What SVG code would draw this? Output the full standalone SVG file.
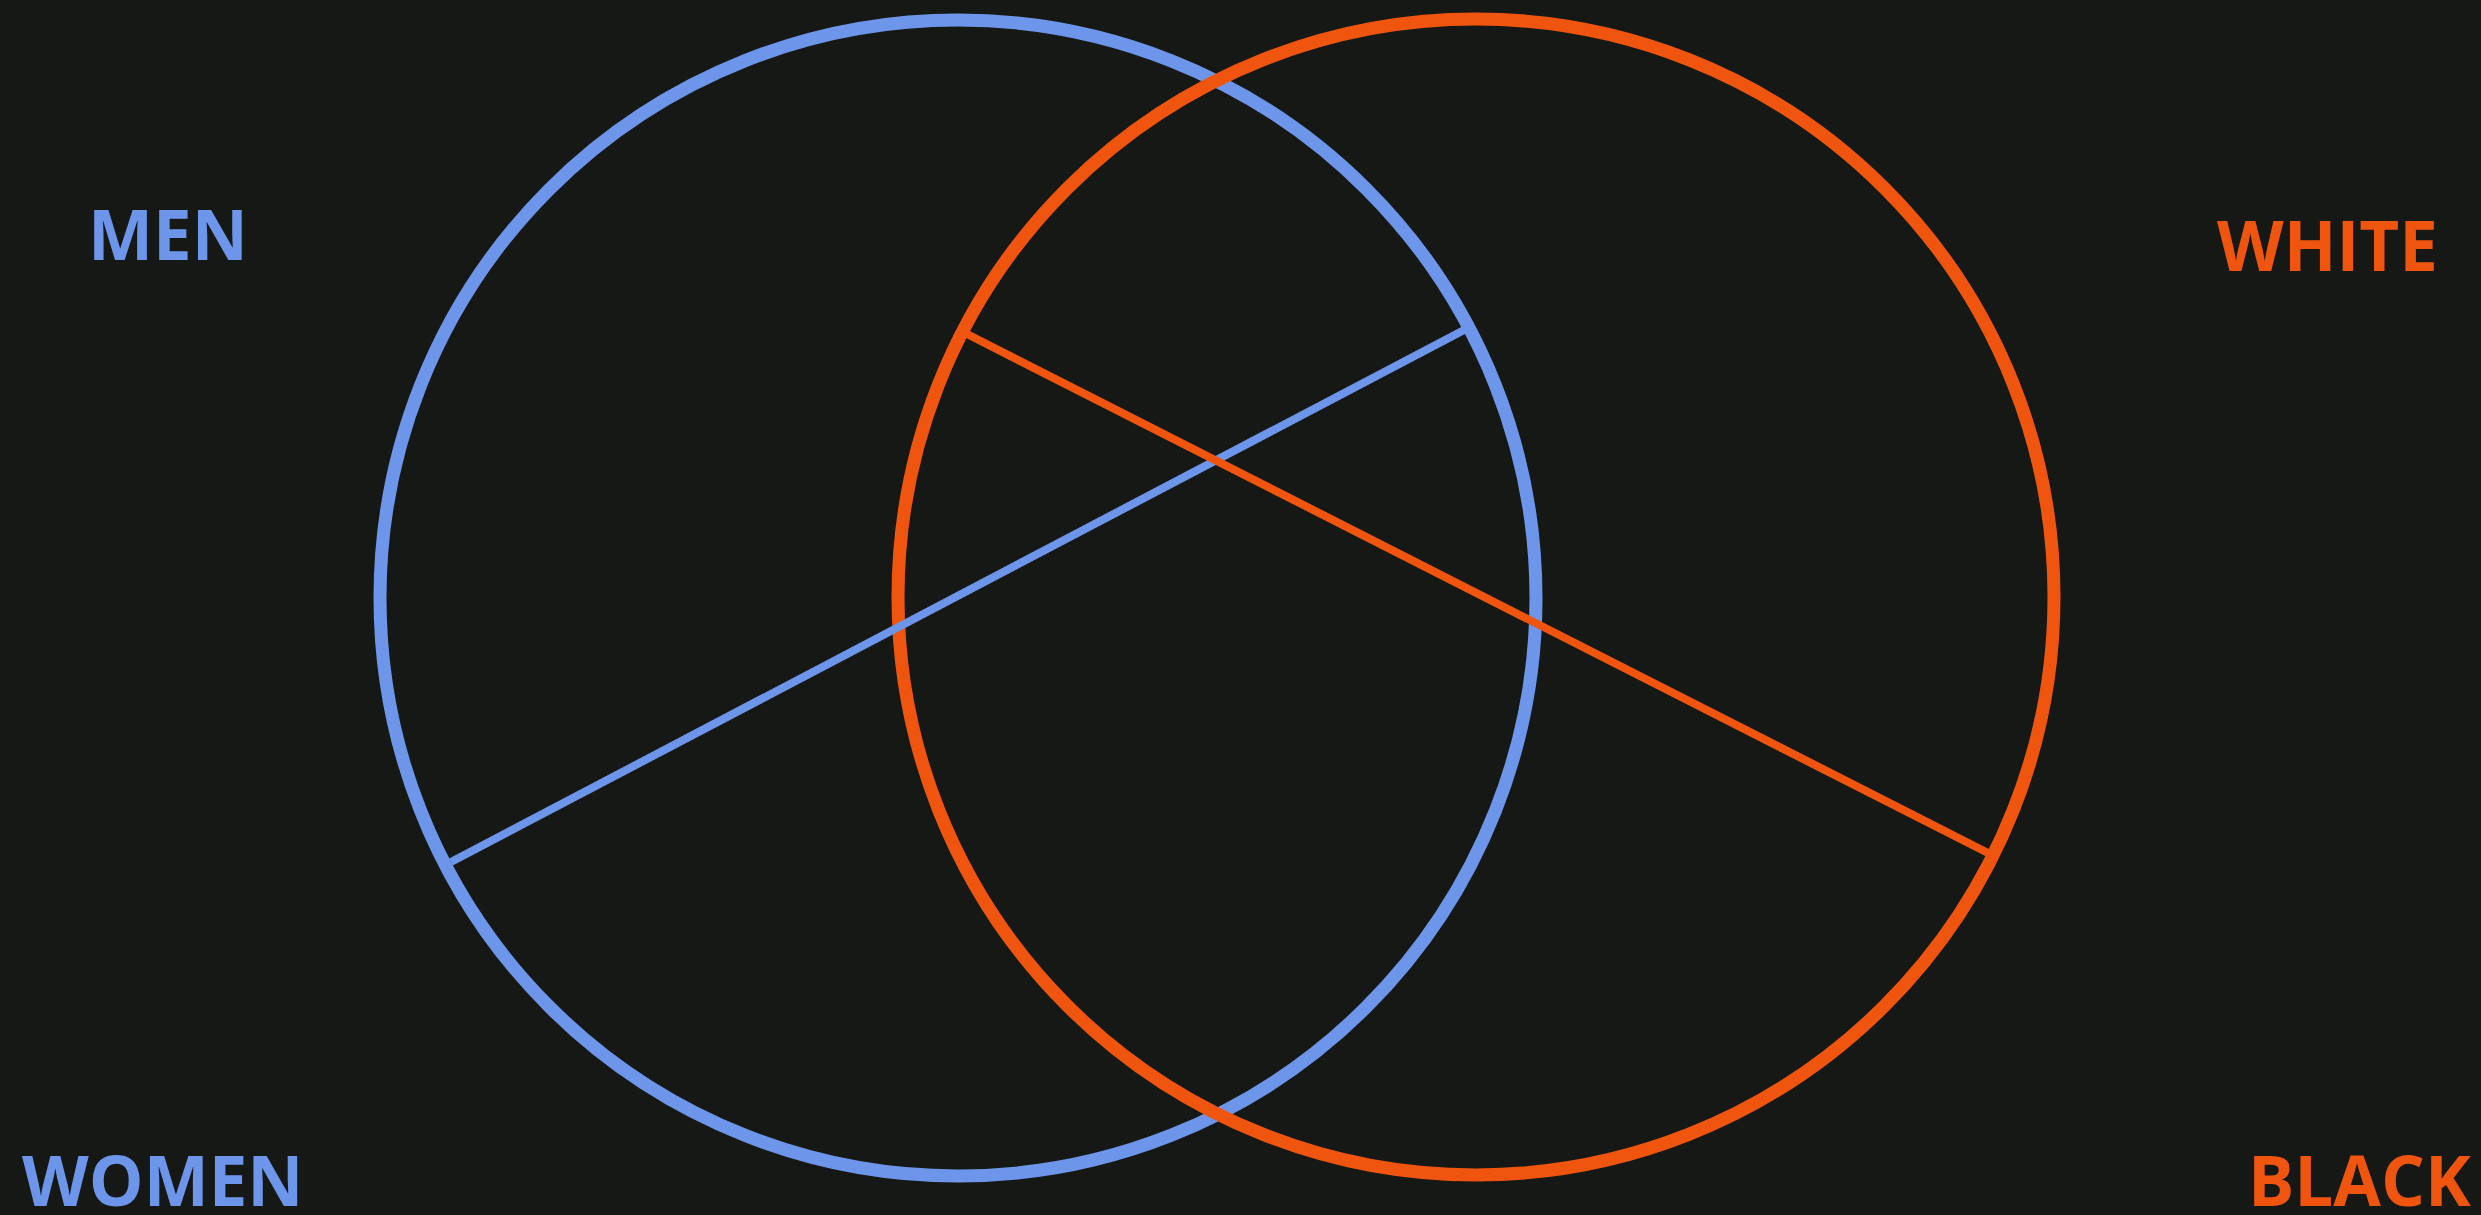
<svg xmlns="http://www.w3.org/2000/svg" width="2481" height="1215" viewBox="0 0 2481 1215">
<style>
.blue{stroke:#6d95ea;fill:none}
.orange{stroke:#f0550f;fill:none}
.ring{stroke-width:13}
.chord{stroke-width:8}
.lbl{font-family:"Open Sans","Liberation Sans",sans-serif;font-weight:bold;font-size:69px}
.tb{fill:#6d95ea}
.to{fill:#f0550f}
</style>
<rect width="2481" height="1215" fill="#161816"/>
<g id="circle-men-women">
<circle class="blue ring" cx="958" cy="598" r="578"/>
</g>
<g id="circle-white-black">
<circle class="orange ring" cx="1476" cy="597" r="578"/>
</g>
<g id="connectors">
<line class="blue chord" x1="451" y1="862" x2="1466" y2="329"/>
<line class="orange chord" x1="967" y1="334" x2="1990" y2="854"/>
</g>
<g id="label-men"><text class="lbl tb" x="88" y="260">MEN</text></g>
<g id="label-women"><text class="lbl tb" x="22" y="1206">WOMEN</text></g>
<g id="label-white"><text class="lbl to" x="2217" y="271">WHITE</text></g>
<g id="label-black"><text class="lbl to" x="2248" y="1206">BLACK</text></g>
</svg>
